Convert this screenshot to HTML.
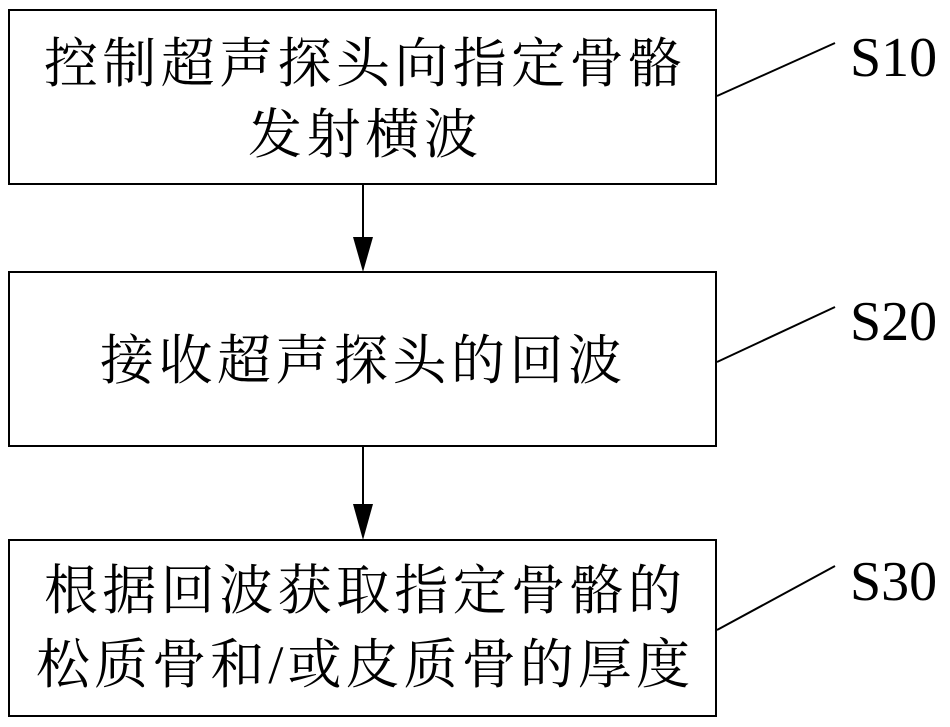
<!DOCTYPE html>
<html><head><meta charset="utf-8"><style>
body{margin:0;background:#fff;}
svg{display:block}
.t{font-family:"Liberation Serif","Noto Serif CJK SC",serif;font-size:54px;fill:#000;}
.s{font-family:"Liberation Serif",serif;font-size:56px;fill:#000;}
</style></head><body>
<svg width="950" height="727" viewBox="0 0 950 727">
<g fill="none" stroke="#000" stroke-width="2">
<rect x="9" y="10" width="707" height="174"/>
<rect x="9" y="272" width="707" height="174"/>
<rect x="9" y="540" width="707" height="176"/>
<line x1="363" y1="184" x2="363" y2="240"/>
<line x1="363" y1="446" x2="363" y2="506"/>
<line x1="717" y1="96" x2="835" y2="43"/>
<line x1="717" y1="362" x2="835" y2="307"/>
<line x1="717" y1="630" x2="835" y2="566"/>
</g>
<polygon points="353,237 373,237 363,272" fill="#000"/>
<polygon points="353,504 373,504 363,540" fill="#000"/>
<text class="t" x="44" y="82" textLength="638" lengthAdjust="spacing">控制超声探头向指定骨骼</text>
<text class="t" x="248" y="153" textLength="230" lengthAdjust="spacing">发射横波</text>
<text class="t" x="100" y="379" textLength="522" lengthAdjust="spacing">接收超声探头的回波</text>
<text class="t" x="44" y="609" textLength="638" lengthAdjust="spacing">根据回波获取指定骨骼的</text>
<text class="t" x="36" y="683" textLength="654" lengthAdjust="spacing">松质骨和/或皮质骨的厚度</text>
<text class="s" x="850" y="76">S10</text>
<text class="s" x="850" y="340">S20</text>
<text class="s" x="850" y="600">S30</text>
</svg>
</body></html>
